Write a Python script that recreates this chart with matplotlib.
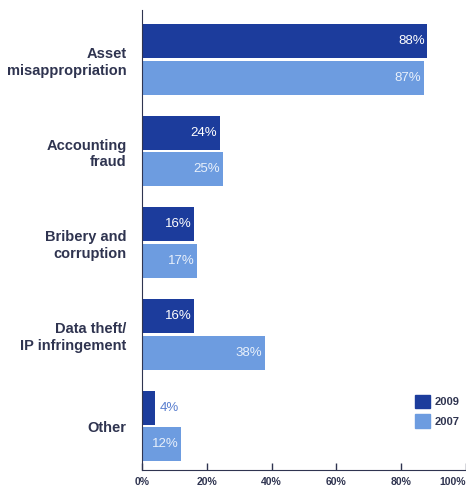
import matplotlib.pyplot as plt
from matplotlib.patches import Patch

plt.rcParams['font.family'] = ['Liberation Sans', 'DejaVu Sans']

categories = ["Asset\nmisappropriation", "Accounting\nfraud", "Bribery and\ncorruption",
              "Data theft/\nIP infringement", "Other"]
values_2009 = [88, 24, 16, 16, 4]
values_2007 = [87, 25, 17, 38, 12]
xticks = [0, 20, 40, 60, 80, 100]

dark = "#1c3c9c"
light = "#6d9ce0"
text_col = "#2f3450"

fig = plt.figure(figsize=(4.66, 4.88), dpi=100)
ax = fig.add_axes([142 / 466, 18 / 488, 324 / 466, 460 / 488])

pos = list(range(len(categories)))
h = 0.37
off = 0.2
ax.barh([p - off for p in pos], values_2009, height=h, color=dark)
ax.barh([p + off for p in pos], values_2007, height=h, color=light)

for p, v in zip(pos, values_2009):
    if v >= 10:
        ax.text(v - 0.8, p - off, f"{v}%", ha="right", va="center", color="white", fontsize=9.5)
    else:
        ax.text(v + 1.5, p - off, f"{v}%", ha="left", va="center", color="#5a7fcf", fontsize=9.5)
for p, v in zip(pos, values_2007):
    ax.text(v - 0.8, p + off, f"{v}%", ha="right", va="center", color="#e8f0fb", fontsize=9.5)

ax.set_xlim(0, 100)
ax.set_ylim(4.48, -0.54)
ax.set_yticks(pos)
ax.set_yticklabels(categories, fontsize=10.5, fontweight="bold", color=text_col,
                   linespacing=1.25)
ax.tick_params(axis="y", length=0, pad=11)
ax.set_xticks(xticks)
ax.set_xticklabels([f"{t}%" for t in xticks], fontsize=7.5, fontweight="bold", color=text_col)
ax.tick_params(axis="x", direction="in", length=5, width=1, color=text_col, pad=5)
# last tick label sits at the figure edge, so right-align it
ax.get_xticklabels()[-1].set_horizontalalignment("right")

for s in ["top", "right"]:
    ax.spines[s].set_visible(False)
ax.spines["left"].set_color(text_col)
ax.spines["bottom"].set_color(text_col)

handles = [Patch(color=dark, label="2009"), Patch(color=light, label="2007")]
leg = ax.legend(handles=handles, loc="lower right", bbox_to_anchor=(1.01, 0.07), frameon=False,
                handlelength=1.3, handleheight=1.5, labelspacing=0.55,
                handletextpad=0.4, prop={"weight": "bold", "size": 8})
for t in leg.get_texts():
    t.set_color(text_col)

plt.savefig("out.png", dpi=100)
